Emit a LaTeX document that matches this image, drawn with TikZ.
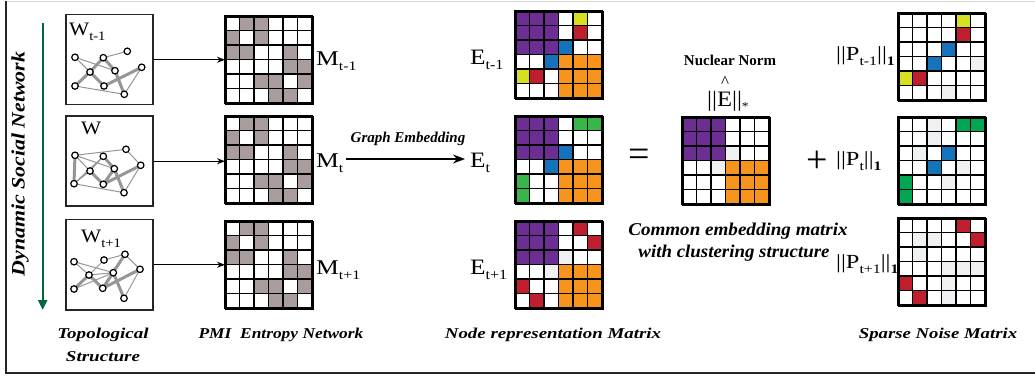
\documentclass[tikz,border=0pt]{standalone}
\usepackage{fontspec}
\setmainfont{Liberation Serif}
\usetikzlibrary{arrows.meta}
\definecolor{cP}{RGB}{108,46,146}
\definecolor{cY}{RGB}{215,223,35}
\definecolor{cR}{RGB}{190,30,45}
\definecolor{cB}{RGB}{20,115,185}
\definecolor{cO}{RGB}{247,148,29}
\definecolor{cG}{RGB}{57,181,74}
\definecolor{cH}{RGB}{0,166,81}
\definecolor{cL}{RGB}{238,240,242}
\definecolor{cW}{RGB}{255,255,255}
\definecolor{cM}{RGB}{168,156,156}
\definecolor{edgegray}{RGB}{150,150,150}
\definecolor{dgreen}{RGB}{0,105,60}
\tikzset{
  lbl/.style={font=\fontsize{21}{21}\selectfont, inner sep=0pt},
  elbl/.style={font=\fontsize{22}{22}\selectfont, inner sep=0pt},
  plbl/.style={font=\fontsize{20}{20}\selectfont, inner sep=0pt},
  wlbl/.style={font=\fontsize{19}{19}\selectfont, inner sep=0pt},
  captxt/.style={font=\bfseries\itshape\fontsize{15}{15}\selectfont, inner sep=0pt},
  gnode/.style={circle, draw=black, fill=white, line width=1.2pt, minimum size=6.5pt, inner sep=0pt},
  thinedge/.style={draw=edgegray, line width=1pt},
  thickedge/.style={draw=edgegray, line width=3pt},
  wbox/.style={draw=black!85, line width=1.5pt, minimum width=87pt, minimum height=90pt, inner sep=0pt, anchor=north west},
  link/.style={-{Stealth[length=8pt,width=6pt]}, line width=1.2pt},
  matframe/.style={draw=black, line width=2pt, minimum size=87pt, inner sep=0pt, anchor=north west}
}
\newcommand\sbs[1]{\raisebox{-5pt}{\fontsize{13}{13}\selectfont #1}}
\newcommand\ebs[1]{\raisebox{-5pt}{\fontsize{14}{14}\selectfont #1}}
\newcommand\hs[2]{\scalebox{#1}[1]{#2}}
\newcommand\gridmat[4]{%
  \foreach \rw [count=\r from 0] in {#4} {
    \foreach \cl [count=\k from 0] in \rw {
      \filldraw[fill=c\cl, draw=black, line width=1.5pt] ({#2+\k*14.5},{#3+\r*14.5}) rectangle ++(14.5,14.5);
    }
  }
  \node[matframe] (#1) at (#2,#3) {};
}
\begin{document}
\begin{tikzpicture}[x=1pt,y=-1pt]
\useasboundingbox (0,0) rectangle (1035,379);
% frame
\draw[draw=black!15, line width=0.8pt] (6,1) -- (1035,1);
\draw[draw=black!85, line width=2pt] (6,1) -- (6,373) -- (1035,373);

% dynamic social network
\coordinate (gtop) at (42.7,23);
\coordinate (gbot) at (42.7,310);
\draw[dgreen, line width=2.2pt, -{Triangle[length=10pt,width=9pt]}] (gtop) -- (gbot);
\node[captxt, font=\bfseries\itshape\fontsize{19}{19}\selectfont, rotate=90] (dsn) at (20,164) {\hs{1.15}{Dynamic Social Network}};

% graph boxes
\node[wbox] (W1) at (65,14) {};
\node[wbox] (W2) at (65,115.5) {};
\node[wbox] (W3) at (65,219) {};
\node[wlbl, anchor=base west] (w1l) at (69,36) {\hs{1.12}{W\sbs{t-1}}};
\node[wlbl, anchor=base west] (w2l) at (81,135) {\hs{1.12}{W}};
\node[wlbl, anchor=base west] (w3l) at (81,243) {\hs{1.12}{W\sbs{t+1}}};

% graph 1
\begin{scope}
\coordinate (a1) at (75,57.3); \coordinate (b1) at (103.3,57.7); \coordinate (c1) at (127.3,51.3);
\coordinate (d1) at (90,72); \coordinate (e1) at (115,70.7); \coordinate (f1) at (141.7,67.3);
\coordinate (g1) at (75,86); \coordinate (h1) at (104,86); \coordinate (i1) at (124.3,94.3);
\draw[thinedge] (a1)--(e1) (a1)--(d1) (b1)--(c1) (g1)--(i1) (i1)--(f1);
\draw[thickedge] (b1)--(d1) (b1)--(e1) (d1)--(g1) (d1)--(h1) (h1)--(f1) (e1)--(i1);
\foreach \n in {a1,b1,c1,d1,e1,f1,g1,h1,i1} \node[gnode] (n\n) at (\n) {};
\end{scope}
% graph 2
\begin{scope}
\coordinate (a2) at (75,155.3); \coordinate (b2) at (103.3,156.3); \coordinate (c2) at (126,149.3);
\coordinate (d2) at (90,171); \coordinate (e2) at (114.3,168.7); \coordinate (f2) at (140.7,165.3);
\coordinate (g2) at (74,183.7); \coordinate (h2) at (103.3,184.3); \coordinate (i2) at (124,192.7);
\draw[thinedge] (a2)--(c2) (a2)--(d2) (a2)--(e2) (b2)--(d2) (c2)--(f2) (d2)--(g2) (g2)--(i2) (i2)--(f2) (g2)--(b2);
\draw[thickedge] (a2)--(g2) (b2)--(e2) (d2)--(h2) (h2)--(e2) (h2)--(f2) (e2)--(i2);
\foreach \n in {a2,b2,c2,d2,e2,f2,g2,h2,i2} \node[gnode] (n\n) at (\n) {};
\end{scope}
% graph 3
\begin{scope}
\coordinate (a3) at (74,261.7); \coordinate (b3) at (104,260); \coordinate (c3) at (125,254.3);
\coordinate (d3) at (89,275); \coordinate (e3) at (113.3,272.7); \coordinate (f3) at (140,269.3);
\coordinate (g3) at (74,289); \coordinate (h3) at (102.7,288.3); \coordinate (i3) at (124,298.3);
\draw[thinedge] (a3)--(d3) (a3)--(e3) (b3)--(c3) (b3)--(d3) (d3)--(e3) (i3)--(f3) (c3)--(f3) (g3)--(e3);
\draw[thickedge] (g3)--(d3) (d3)--(h3) (h3)--(e3) (h3)--(c3) (h3)--(f3) (e3)--(i3);
\foreach \n in {a3,b3,c3,d3,e3,f3,g3,h3,i3} \node[gnode] (n\n) at (\n) {};
\end{scope}

% PMI matrices
\gridmat{M1}{225}{16}{{W,M,M,W,W,W},{M,W,M,W,W,W},{M,M,W,W,M,W},{W,W,W,W,M,M},{W,W,M,M,W,M},{W,W,W,M,M,W}}
\gridmat{M2}{225}{116}{{W,M,M,W,W,W},{M,W,M,W,W,W},{M,M,W,W,M,W},{W,W,W,W,M,M},{W,W,M,M,W,M},{W,W,W,M,M,W}}
\gridmat{M3}{225}{221}{{W,M,M,W,W,W},{M,W,M,W,W,W},{M,M,W,W,M,W},{W,W,W,W,M,M},{W,W,M,M,W,M},{W,W,W,M,M,W}}
\node[lbl, anchor=base west] (m1l) at (316,66) {\hs{1.22}{M\sbs{t-1}}};
\node[lbl, anchor=base west] (m2l) at (316,168) {\hs{1.22}{M\sbs{t}}};
\node[lbl, anchor=base west] (m3l) at (316,274) {\hs{1.22}{M\sbs{t+1}}};

\draw[link] (W1.east) -- (W1.east -| M1.west);
\draw[link] (W2.east) -- (W2.east -| M2.west);
\draw[link] (W3.east) -- (W3.east -| M3.west);

% E matrices
\gridmat{E1}{515}{11}{{P,P,P,W,Y,W},{P,P,P,W,R,W},{P,P,P,B,W,W},{W,W,B,O,O,O},{Y,R,W,O,O,O},{W,W,W,O,O,O}}
\gridmat{E2}{515}{116}{{P,P,P,W,G,G},{P,P,P,W,W,W},{P,P,P,B,W,W},{W,W,B,O,O,O},{G,W,W,O,O,O},{G,W,W,O,O,O}}
\gridmat{E3}{515}{221}{{P,P,P,W,R,W},{P,P,P,W,W,R},{P,P,P,L,W,W},{W,W,L,O,O,O},{R,W,W,O,O,O},{W,R,W,O,O,O}}
\node[elbl, anchor=base west] (e1l) at (470,65) {\hs{1.15}{E\ebs{t-1}}};
\node[elbl, anchor=base west] (e2l) at (470,168) {\hs{1.15}{E\ebs{t}}};
\node[elbl, anchor=base west] (e3l) at (470,274) {\hs{1.15}{E\ebs{t+1}}};

\draw[-{Stealth[length=12pt,width=9pt]}, line width=1.6pt, shorten <=2pt, shorten >=5pt] (m2l.east |- 0,159) -- (e2l.west |- 0,159);
\node[captxt, anchor=base] (ge) at (408,143) {Graph Embedding};

% common matrix
\gridmat{C}{682}{117}{{P,P,P,W,W,W},{P,P,P,W,W,W},{P,P,P,L,W,W},{W,W,L,O,O,O},{W,W,W,O,O,O},{W,W,W,O,O,O}}
\node[font=\bfseries\fontsize{15}{15}\selectfont, inner sep=0pt, anchor=base] (nn) at (730,66) {Nuclear Norm};
\node[elbl, anchor=base west] (enorm) at (707,107) {\hs{1.12}{||E||\raisebox{-4pt}{\fontsize{12}{12}\selectfont *}}};
\node[font=\fontsize{17}{17}\selectfont, inner sep=0pt, anchor=base] (hat) at (725,88) {\smash{\textasciicircum}};
\node[font=\fontsize{38}{38}\selectfont, inner sep=0pt] (eq) at (639,158) {=};
\node[font=\fontsize{38}{38}\selectfont, inner sep=0pt] (plus) at (817.5,162) {+};
\node[captxt, font=\bfseries\itshape\fontsize{18}{18}\selectfont, anchor=base] (ce1) at (738,236) {\hs{1.06}{Common embedding matrix}};
\node[captxt, font=\bfseries\itshape\fontsize{18}{18}\selectfont, anchor=base] (ce2) at (734,258) {\hs{1.05}{with clustering structure}};

% P matrices
\gridmat{P1}{898}{13}{{W,W,W,W,Y,W},{W,W,W,W,R,W},{W,W,W,B,W,W},{W,W,B,W,W,L},{Y,R,W,W,W,W},{W,W,W,L,W,W}}
\gridmat{P2}{898}{117}{{W,W,L,W,H,H},{W,W,L,W,W,W},{W,L,W,B,W,W},{W,W,B,W,L,W},{H,W,W,L,W,W},{H,W,W,W,W,W}}
\gridmat{P3}{898}{218}{{W,W,W,W,R,W},{W,L,L,W,W,R},{W,L,W,W,W,W},{W,W,W,L,L,L},{R,W,W,L,W,W},{W,R,W,L,W,W}}
\node[plbl, anchor=base west] (p1l) at (836,61) {\hs{1.22}{||P\sbs{t-1}||\raisebox{-4.5pt}{\fontsize{13}{13}\selectfont\bfseries 1}}};
\node[plbl, anchor=base west] (p2l) at (836,166) {\hs{1.22}{||P\sbs{t}||\raisebox{-4.5pt}{\fontsize{13}{13}\selectfont\bfseries 1}}};
\node[plbl, anchor=base west] (p3l) at (836,269) {\hs{1.22}{||P\sbs{t+1}||\raisebox{-4.5pt}{\fontsize{13}{13}\selectfont\bfseries 1}}};

% captions
\node[captxt, anchor=base] (top1) at (103,338) {\hs{1.27}{Topological}};
\node[captxt, anchor=base] (top2) at (103,361) {\hs{1.27}{Structure}};
\node[captxt, anchor=base] (pmi) at (281,338) {\hs{1.16}{PMI\ \ Entropy Network}};
\node[captxt, anchor=base] (nrm) at (553,338) {\hs{1.26}{Node representation Matrix}};
\node[captxt, anchor=base] (snm) at (938,338) {\hs{1.25}{Sparse Noise Matrix}};
\end{tikzpicture}
\end{document}
